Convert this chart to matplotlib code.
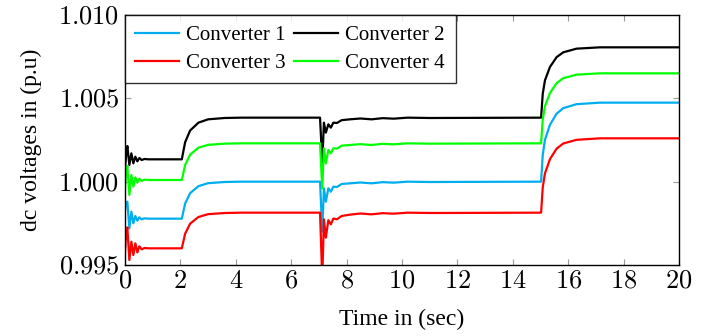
import numpy as np
import matplotlib
matplotlib.use('Agg')
import matplotlib.pyplot as plt

#=============== data ===============
# common time samples (sec)
t = [0, 0.04, 0.084, 0.156, 0.229, 0.30, 0.373, 0.445, 0.517, 0.60, 0.70, 0.85,
     2.05, 2.17, 2.35, 2.65, 3.0, 3.6, 4.2,
     7.04, 7.12, 7.18, 7.25, 7.34, 7.43, 7.52, 7.65, 7.82, 8.12, 8.5, 8.9, 9.3, 9.7, 10.2, 11.0,
     15.02, 15.08, 15.16, 15.34, 15.58, 15.82, 16.3, 17.15, 20.0]

conv1 = [0.9983, 0.9987, 0.9988, 0.9972, 0.9982, 0.9975, 0.99794, 0.99766, 0.99786, 0.99774, 0.9978, 0.99778,
         0.99778, 0.99869, 0.99931, 0.99973, 0.99991, 0.99998, 1.00000,
         1.00000, 0.99700, 0.99960, 0.99880, 0.99960, 0.99940, 0.99970, 0.99968, 0.99986, 0.99990, 0.99995, 0.99990, 0.99997, 0.99994, 1.00000, 0.99998,
         1.00000, 1.00161, 1.00251, 1.00341, 1.00408, 1.00441, 1.00465, 1.00474, 1.00474]

conv2 = [1.0008, 1.0016, 1.00214, 1.0010, 1.0017, 1.0011, 1.0015, 1.00122, 1.00142, 1.0013, 1.00136, 1.00134,
         1.00134, 1.00237, 1.00307, 1.00354, 1.00374, 1.00382, 1.00384,
         1.00384, 1.00114, 1.00354, 1.00294, 1.00344, 1.00324, 1.00354, 1.00352, 1.00369, 1.00374, 1.00379, 1.00374, 1.00381, 1.00378, 1.00384, 1.00382,
         1.00384, 1.00527, 1.00608, 1.00688, 1.00747, 1.00776, 1.00798, 1.00806, 1.00806]

conv3 = [0.9958, 0.9969, 0.99726, 0.9953, 0.9964, 0.9956, 0.9963, 0.99575, 0.99612, 0.99594, 0.99602, 0.9960,
         0.99600, 0.99688, 0.99748, 0.99788, 0.99805, 0.99812, 0.99814,
         0.99814, 0.99414, 0.99774, 0.99664, 0.99769, 0.99744, 0.99779, 0.99774, 0.99794, 0.99802, 0.99809, 0.99804, 0.99811, 0.99808, 0.99814, 0.99812,
         0.99814, 0.99966, 1.00050, 1.00135, 1.00198, 1.00229, 1.00251, 1.00260, 1.00260]

conv4 = [0.9996, 1.0006, 1.00094, 0.9992, 1.0004, 0.9997, 1.00026, 0.99994, 1.00018, 1.00004, 1.00012, 1.0001,
         1.00010, 1.00100, 1.00162, 1.00204, 1.00221, 1.00228, 1.00230,
         1.00230, 0.99960, 1.00200, 1.00110, 1.00190, 1.00170, 1.00200, 1.00198, 1.00216, 1.00220, 1.00225, 1.00220, 1.00227, 1.00224, 1.00230, 1.00228,
         1.00230, 1.00373, 1.00453, 1.00532, 1.00591, 1.00621, 1.00642, 1.00650, 1.00650]

x_ticks = [0, 2, 4, 6, 8, 10, 12, 14, 16, 18, 20]
y_ticks = [0.995, 1.000, 1.005, 1.010]
y_tick_labels = ['0.995', '1.000', '1.005', '1.010']

#=============== plot ===============
plt.rcParams['font.family'] = ['Liberation Serif', 'DejaVu Serif']
plt.rcParams['mathtext.fontset'] = 'cm'

fig = plt.figure(figsize=(7.12, 3.36), dpi=100)
ax = fig.add_axes([0.1756, 0.2113, 0.7781, 0.7441])

lw = 1.6
l1, = ax.plot(t, conv1, color='#00AEEF', lw=lw, label='Converter 1')
l2, = ax.plot(t, conv2, color='black', lw=lw, label='Converter 2')
l3, = ax.plot(t, conv3, color='#FF0000', lw=lw, label='Converter 3')
l4, = ax.plot(t, conv4, color='#00FF00', lw=lw, label='Converter 4')

ax.set_xlim(0, 20)
ax.set_ylim(0.995, 1.010)
ax.set_xticks(x_ticks)
ax.set_xticklabels(['$%d$' % v for v in x_ticks])
ax.set_yticks(y_ticks)
ax.set_yticklabels(['$%s$' % s for s in y_tick_labels])
ax.tick_params(direction='in', length=4, width=0.8, color='#999999',
               top=True, right=True, labelsize=19, pad=4)
for sp in ax.spines.values():
    sp.set_linewidth(1.0)

ax.set_xlabel('Time in (sec)', fontsize=17, labelpad=12)
ax.set_ylabel('dc voltages in (p.u)', fontsize=17, labelpad=12)

leg = ax.legend([l1, l3, l2, l4], ['Converter 1', 'Converter 3', 'Converter 2', 'Converter 4'],
                loc='upper left', ncol=2, fontsize=15, frameon=True, fancybox=False,
                borderaxespad=0.0, handlelength=2.1, handletextpad=0.35,
                columnspacing=0.4, labelspacing=0.4, borderpad=0.5)
leg.get_frame().set_edgecolor('black')
leg.get_frame().set_linewidth(1.0)

fig.savefig('out.png', dpi=100)
